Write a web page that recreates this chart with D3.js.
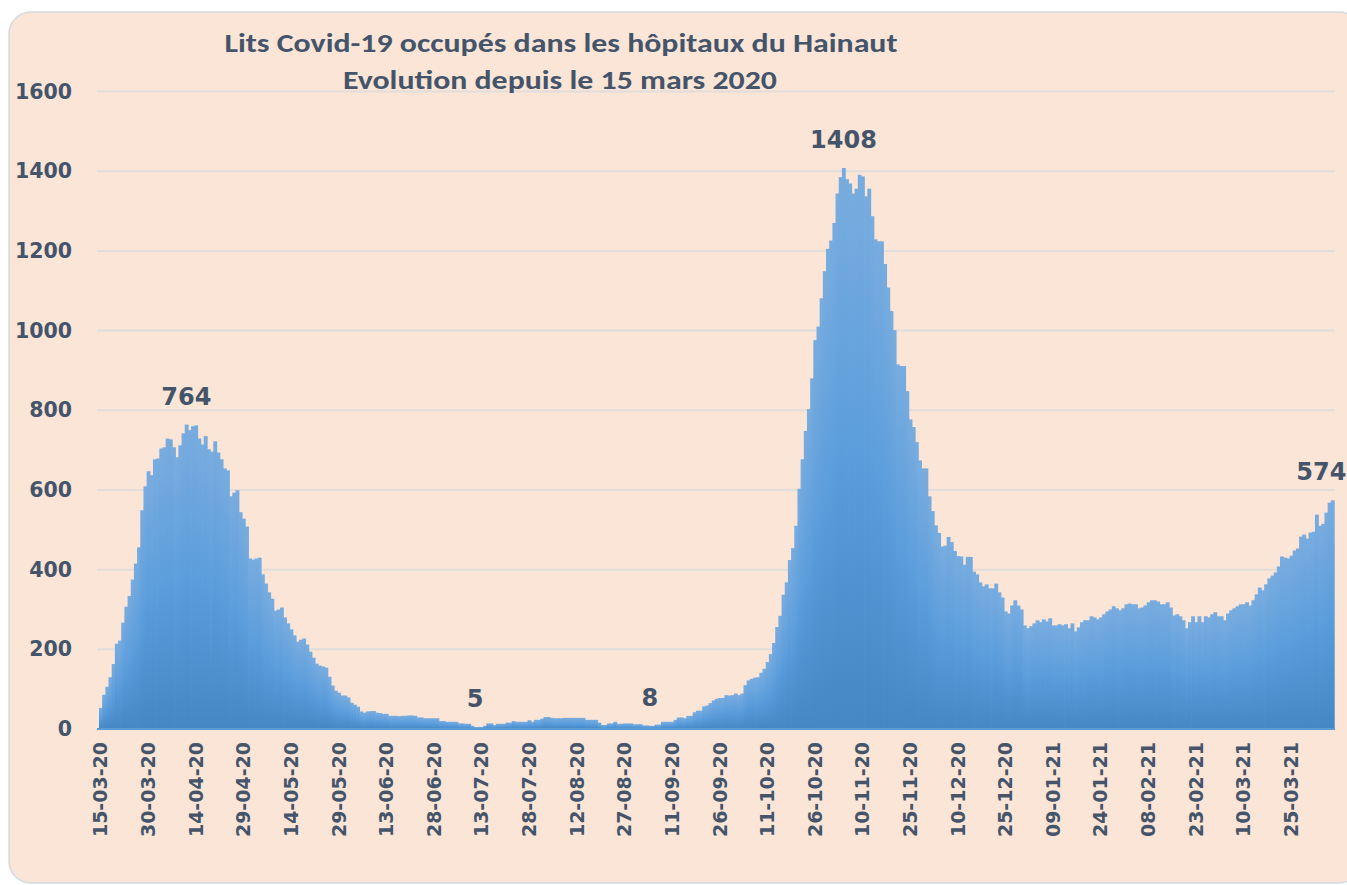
<!DOCTYPE html>
<html>
<head>
<meta charset="utf-8">
<script src="https://cdn.jsdelivr.net/npm/d3@7"></script>
<style>
  html, body { margin: 0; padding: 0; background: #ffffff; }
  svg { display: block; }
</style>
</head>
<body>
<script>
// ---------- DATA ----------
const titleLines = ["Lits Covid-19 occupés dans les hôpitaux du Hainaut", "Evolution depuis le 15 mars 2020"];
const startDate = "2020-03-15";
const yTicks = [0, 200, 400, 600, 800, 1000, 1200, 1400, 1600];
const tickLabels = ["15-03-20","30-03-20","14-04-20","29-04-20","14-05-20","29-05-20","13-06-20","28-06-20",
  "13-07-20","28-07-20","12-08-20","27-08-20","11-09-20","26-09-20","11-10-20","26-10-20","10-11-20",
  "25-11-20","10-12-20","25-12-20","09-01-21","24-01-21","08-02-21","23-02-21","10-03-21","25-03-21"];

// occupied beds, one value per day from 15-03-20
const wave1 = [
  53, 86, 106, 130, 163, 214, 222, 267, 307, 334,
  375, 415, 456, 549, 609, 647, 637, 677, 679, 704,
  707, 729, 727, 707, 682, 712, 742, 764, 750, 760,
  762, 729, 714, 735, 702, 696, 722, 694, 677, 654,
  649, 584, 593, 599, 544, 528, 508, 428, 425, 428,
  430, 388, 365, 343, 327, 297, 300, 305, 280, 265,
  250, 235, 219, 224, 227, 212, 194, 179, 164, 159,
  157, 154, 131, 109, 96, 91, 84, 84, 79, 66,
  61, 56, 44, 41, 44
];
const summer = [
  45, 45, 41, 40, 38, 38, 33, 33, 33, 32,
  33, 33, 34, 34, 33, 29, 29, 27, 27, 27,
  27, 27, 20, 20, 18, 18, 18, 18, 14, 14,
  13, 13, 8, 5, 5, 5, 8, 14, 14, 10,
  13, 13, 13, 16, 16, 20, 18, 18, 18, 18,
  22, 18, 23, 23, 26, 30, 30, 28, 27, 27,
  27, 28, 28, 28, 28, 28, 28, 28, 23, 23,
  23, 23, 16, 10, 10, 14, 14, 18, 13, 13,
  14, 14, 14, 12, 12, 12, 9, 9, 8, 8,
  11, 11, 18, 18, 18, 18, 23, 29, 29, 27,
  33, 33, 42, 46, 46
];
const wave2 = [
  57, 59, 65, 72, 76, 78, 78, 85, 84, 85,
  89, 85, 89, 110, 122, 126, 129, 130, 141, 151,
  168, 188, 216, 256, 284, 337, 368, 424, 454, 510,
  603, 677, 748, 803, 880, 976, 1010, 1081, 1149, 1205,
  1226, 1270, 1344, 1385, 1408, 1380, 1369, 1344, 1356, 1391,
  1387, 1337, 1356, 1287, 1229, 1224, 1224, 1167, 1108, 1049,
  1001, 915, 911, 911, 848, 777, 758, 720, 674, 654,
  654, 584, 547, 511, 492, 458, 460, 482, 469, 447,
  434
];
const plateau = [
  433, 412, 432, 432, 395, 388, 368, 358, 363, 353,
  353, 365, 343, 330, 295, 290, 310, 323, 310, 300,
  260, 253, 258, 265, 273, 268, 275, 270, 278, 260,
  260, 263, 260, 263, 253, 265, 245, 255, 268, 273,
  273, 283, 280, 275, 280, 288, 295, 300, 308, 303,
  298, 303, 313, 315, 313, 313, 303, 305, 310, 318,
  323, 323, 320, 313, 313, 318, 305, 285, 288, 283,
  273, 253, 268, 283, 268, 283, 268, 283, 280, 288,
  293, 283, 283, 273, 290, 298, 303, 308, 313, 313,
  318, 310, 323, 338, 355, 348, 363, 378, 385, 393,
  408, 433, 430, 428, 435, 448, 453, 483, 488, 478,
  493, 495, 538, 510, 515, 543, 568, 574
];
const values = wave1.concat(summer, wave2, plateau);
// annotated points (category label, value)
const annotations = [
  { date: "11-04-20", value: 764 },
  { date: "11-07-20", value: 5 },
  { date: "04-09-20", value: 8 },
  { date: "04-11-20", value: 1408 },
  { date: "07-04-21", value: 574 }
];

// ---------- CHART ----------
const W = 1347, H = 885;
const fmt = d3.timeFormat("%d-%m-%y");
const t0 = d3.timeParse("%Y-%m-%d")(startDate);
const categories = values.map((v, i) => fmt(d3.timeDay.offset(t0, i)));

const textColor = "#44546A";
const svg = d3.select("body").append("svg").attr("width", W).attr("height", H);

const defs = svg.append("defs");
const grad = defs.append("linearGradient").attr("id", "barGrad")
  .attr("x1", 0).attr("y1", 0).attr("x2", 0).attr("y2", 1);
grad.append("stop").attr("offset", "0%").attr("stop-color", "#78ACDF");
grad.append("stop").attr("offset", "50%").attr("stop-color", "#5B9DDC");
grad.append("stop").attr("offset", "100%").attr("stop-color", "#4586C5");

svg.append("rect").attr("x", 9).attr("y", 12).attr("width", 1352).attr("height", 871)
  .attr("rx", 22).attr("fill", "#FBE5D6").attr("stroke", "#D3DAE3").attr("stroke-width", 1.5);

const plot = { left: 99, right: 1334, top: 91.5, bottom: 729 };

const x = d3.scaleBand().domain(categories).range([plot.left, plot.right]).padding(0);
const y = d3.scaleLinear().domain([0, 1600]).range([plot.bottom, plot.top]);

// gridlines
svg.append("g").selectAll("line").data(yTicks.filter(d => d > 0)).join("line")
  .attr("x1", plot.left - 2).attr("x2", plot.right + 1)
  .attr("y1", d => y(d)).attr("y2", d => y(d))
  .attr("stroke", "#E1DDDB").attr("stroke-width", 2);

// bars
const bw = x.bandwidth();
svg.append("g").selectAll("rect").data(values).join("rect")
  .attr("x", (d, i) => x(categories[i]))
  .attr("width", bw + 0.7)
  .attr("y", d => y(d))
  .attr("height", d => y(0) - y(d))
  .attr("fill", "url(#barGrad)");

// y axis
const yAxis = d3.axisLeft(y).tickValues(yTicks).tickSize(0).tickPadding(27).tickFormat(d3.format("d"));
const gy = svg.append("g").attr("transform", `translate(${plot.left},0)`).call(yAxis);
gy.select(".domain").remove();
gy.selectAll("text").attr("fill", textColor)
  .style("font-family", "'DejaVu Sans', Verdana, sans-serif")
  .style("font-weight", "bold").style("font-size", "20.5px");

// x axis
const xAxis = d3.axisBottom(x).tickValues(categories.filter(c => tickLabels.includes(c))).tickSize(0);
const gx = svg.append("g").attr("transform", `translate(0,${plot.bottom})`).call(xAxis);
gx.select(".domain").attr("stroke", "#5B9BD5").attr("stroke-width", 2)
  .attr("d", `M${plot.left - 2},0H${plot.right + 1}`);
gx.selectAll("text")
  .attr("transform", "rotate(-90)")
  .attr("x", -13).attr("y", 0).attr("dy", "0.36em")
  .attr("text-anchor", "end")
  .attr("fill", textColor)
  .style("font-family", "'DejaVu Sans', Verdana, sans-serif")
  .style("font-weight", "bold").style("font-size", "19px");

// data labels
svg.append("g").selectAll("text").data(annotations).join("text")
  .attr("x", (d, i) => x(d.date) + bw / 2 - (i === annotations.length - 1 ? 11 : 0))
  .attr("y", d => y(d.value) - 20)
  .attr("text-anchor", "middle")
  .attr("fill", textColor)
  .style("font-family", "'DejaVu Sans', Verdana, sans-serif")
  .style("font-weight", "bold").style("font-size", "24px")
  .text(d => d.value);

// title
const titleSpecs = [{ cx: 561, y: 52, len: 673 }, { cx: 560, y: 89, len: 434 }];
svg.append("g").selectAll("text").data(titleLines).join("text")
  .attr("x", (d, i) => titleSpecs[i].cx - titleSpecs[i].len / 2)
  .attr("y", (d, i) => titleSpecs[i].y)
  .attr("textLength", (d, i) => titleSpecs[i].len)
  .attr("lengthAdjust", "spacingAndGlyphs")
  .attr("fill", textColor)
  .style("font-family", "Carlito, 'Open Sans', 'Noto Sans', sans-serif")
  .style("font-weight", "bold").style("font-size", "26px")
  .text(d => d);
</script>
</body>
</html>
